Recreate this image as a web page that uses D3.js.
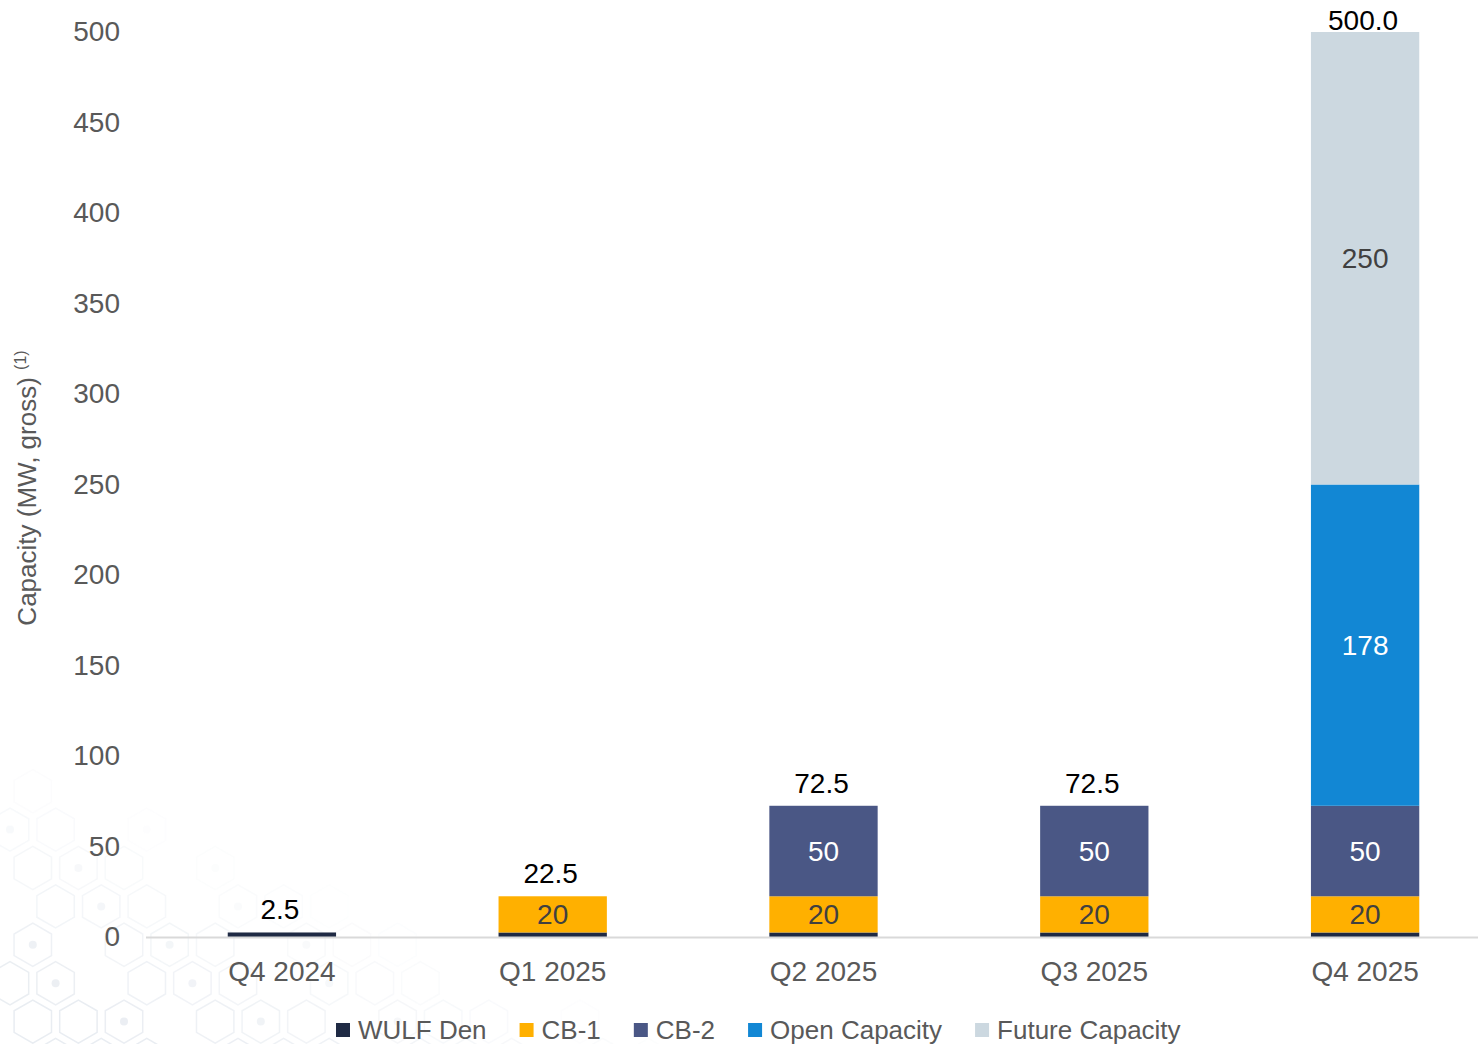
<!DOCTYPE html>
<html>
<head>
<meta charset="utf-8">
<script src="https://cdn.jsdelivr.net/npm/d3@7"></script>
<style>
  html, body { margin: 0; padding: 0; background: #ffffff; }
  svg { display: block; font-family: "Liberation Sans", Arial, sans-serif; }
</style>
</head>
<body>
<svg id="chart" width="1478" height="1044"></svg>
<script>
// ---- data ----
const categories = ["Q4 2024", "Q1 2025", "Q2 2025", "Q3 2025", "Q4 2025"];
const seriesNames = ["WULF Den", "CB-1", "CB-2", "Open Capacity", "Future Capacity"];
const wulfDen      = [2.5, 2.5, 2.5, 2.5, 2.5];
const cb1          = [0, 20, 20, 20, 20];
const cb2          = [0, 0, 50, 50, 50];
const openCapacity = [0, 0, 0, 0, 177.5];
const futureCap    = [0, 0, 0, 0, 250];
const yTicks = [0, 50, 100, 150, 200, 250, 300, 350, 400, 450, 500];

const colors = ["#1f2a44", "#ffb000", "#4a5785", "#1287d4", "#ccd8e0"];
const labelColors = ["#ffffff", "#404040", "#ffffff", "#ffffff", "#404040"];

const seriesValues = [wulfDen, cb1, cb2, openCapacity, futureCap];
const rows = categories.map((c, i) => {
  const r = { cat: c };
  seriesNames.forEach((s, k) => r[s] = seriesValues[k][i]);
  return r;
});
const stacked = d3.stack().keys(seriesNames)(rows);
const totals = rows.map(r => d3.sum(seriesNames, s => r[s]));

const svg = d3.select("#chart");

// ---- decorative hexagon background (bottom-left) ----
const deco = svg.append("g").attr("class", "decor");
const hexR = 24;
const hexPath = (cx, cy, r) => d3.range(6).map(k => {
  const a = Math.PI / 6 + k * Math.PI / 3;
  return [cx + r * Math.cos(a), cy + r * Math.sin(a)];
});
const line = d3.line().curve(d3.curveLinearClosed);
for (let row = 0; row < 8; row++) {
  for (let col = 0; col < 18; col++) {
    const cx = col * hexR * 1.9 + (row % 2 ? hexR * 0.95 : 0) + 10;
    const cy = 1060 - row * hexR * 1.6;
    const fade = 1 - (cx / 720) - ((1060 - cy) / 320);
    if (fade <= 0.05) continue;
    if ((row * 7 + col * 3) % 4 === 0) continue;
    deco.append("path")
      .attr("d", line(hexPath(cx, cy, hexR * 0.9)))
      .attr("fill", "none")
      .attr("stroke", "#e9edf2")
      .attr("stroke-width", 1.5)
      .attr("opacity", Math.min(1, fade * 1.3));
    if ((row + col) % 3 === 0) {
      deco.append("circle").attr("cx", cx).attr("cy", cy).attr("r", 4)
        .attr("fill", "#e9edf2").attr("opacity", Math.min(1, fade * 1.3));
    }
  }
}

// ---- scales ----
const x = d3.scaleBand().domain(categories).range([146.5, 1500.5])
  .paddingInner(0.6).paddingOuter(0.3);
const y = d3.scaleLinear().domain([0, 500]).range([937, 32]);

// ---- y axis labels ----
const yAxis = svg.append("g").attr("transform", "translate(120,0)")
  .call(d3.axisLeft(y).tickValues(yTicks).tickSize(0).tickPadding(0).tickFormat(d3.format("d")));
yAxis.select(".domain").remove();
yAxis.selectAll("text")
  .attr("fill", "#595959")
  .style("font-size", "28px")
  .style("font-family", "'Liberation Sans', Arial, sans-serif");

// y axis title
const yt = svg.append("text")
  .attr("transform", "translate(36,488) rotate(-90)")
  .attr("text-anchor", "middle")
  .attr("fill", "#595959")
  .style("font-size", "26px");
yt.append("tspan").text("Capacity (MW, gross) ");
yt.append("tspan").text("(1)").style("font-size", "16px").attr("dy", "-10");

// ---- bars ----
const layers = svg.append("g").selectAll("g").data(stacked).join("g")
  .attr("fill", (d, i) => colors[i]);
layers.selectAll("rect").data(d => d.map(p => ({ p, cat: p.data.cat }))).join("rect")
  .attr("x", d => x(d.cat))
  .attr("width", x.bandwidth())
  .attr("y", d => y(d.p[1]))
  .attr("height", d => y(d.p[0]) - y(d.p[1]));

// x axis line
svg.append("line")
  .attr("x1", 146).attr("x2", 1478)
  .attr("y1", y(0) + 0.5).attr("y2", y(0) + 0.5)
  .attr("stroke", "#d9d9d9").attr("stroke-width", 2);

// x axis labels
const xAxis = svg.append("g").attr("transform", `translate(0,${y(0)})`)
  .call(d3.axisBottom(x).tickSize(0).tickPadding(24));
xAxis.select(".domain").remove();
xAxis.selectAll("text")
  .attr("fill", "#595959")
  .style("font-size", "28px")
  .style("font-family", "'Liberation Sans', Arial, sans-serif");

// segment labels
stacked.forEach((layer, k) => {
  svg.append("g").selectAll("text")
    .data(layer.filter(p => (p[1] - p[0]) >= 10))
    .join("text")
    .attr("x", p => x(p.data.cat) + x.bandwidth() / 2)
    .attr("y", p => (y(p[0]) + y(p[1])) / 2 + 10)
    .attr("text-anchor", "middle")
    .attr("fill", labelColors[k])
    .style("font-size", "28px")
    .text(p => d3.format(".0f")(p[1] - p[0]));
});

// total labels
svg.append("g").selectAll("text").data(categories).join("text")
  .attr("x", (c) => x(c) + x.bandwidth() / 2 - 2)
  .attr("y", (c, i) => Math.max(y(totals[i]) - 13, 30))
  .attr("text-anchor", "middle")
  .attr("fill", "#000000")
  .style("font-size", "28px")
  .text((c, i) => d3.format(".1f")(totals[i]));

// ---- legend ----
const legend = svg.append("g").attr("transform", "translate(336,1030)");
let lx = 0;
seriesNames.forEach((s, i) => {
  const g = legend.append("g").attr("transform", `translate(${lx},0)`);
  g.append("rect").attr("x", 0).attr("y", -7).attr("width", 14).attr("height", 14)
    .attr("fill", colors[i]);
  const t = g.append("text").attr("x", 22).attr("y", 9)
    .attr("fill", "#595959").style("font-size", "26px").text(s);
  lx += 22 + t.node().getComputedTextLength() + 33;
});
</script>
</body>
</html>
